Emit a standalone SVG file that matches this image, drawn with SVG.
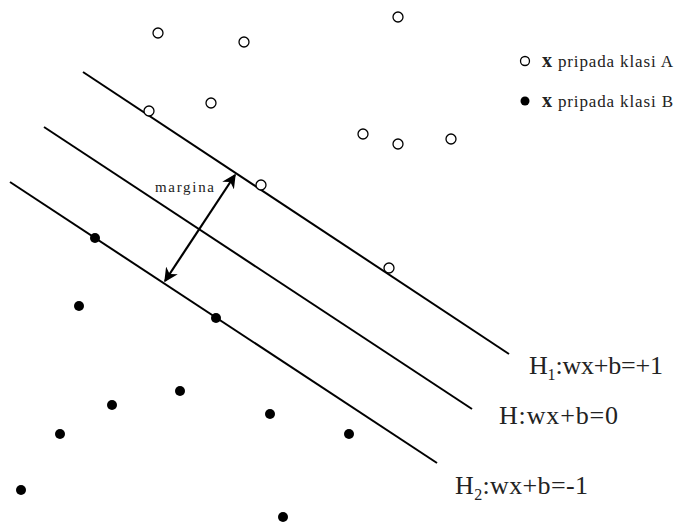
<svg xmlns="http://www.w3.org/2000/svg" width="674" height="523" viewBox="0 0 674 523">
<style>
.ln{stroke:#000;stroke-width:2;fill:none}
.a{fill:#fff;stroke:#000;stroke-width:1.3}
.b{fill:#000}
.t{font-family:"Liberation Serif",serif;fill:#222}
.lab{font-size:26px}
</style>
<defs>
<marker id="ah" viewBox="0 0 10 10" refX="9" refY="5" markerWidth="14" markerHeight="14" orient="auto-start-reverse" markerUnits="userSpaceOnUse">
<path d="M0,0 L10,5 L0,10 L3,5 z" fill="#000"/>
</marker>
</defs>
<rect width="674" height="523" fill="#fff"/>
<g id="connectors">
<line id="H1" class="ln" x1="83" y1="72" x2="509" y2="354"/>
<line id="H" class="ln" x1="44" y1="127" x2="472" y2="409"/>
<line id="H2" class="ln" x1="10" y1="182" x2="437" y2="463"/>
<line id="margin-arrow" class="ln" x1="165" y1="281" x2="235" y2="175" marker-start="url(#ah)" marker-end="url(#ah)" style="stroke-width:2.2"/>
</g>
<g id="classA">
<circle class="a" cx="158" cy="33" r="5"/>
<circle class="a" cx="244" cy="42" r="5"/>
<circle class="a" cx="398" cy="17" r="5"/>
<circle class="a" cx="149" cy="111" r="5"/>
<circle class="a" cx="211" cy="103" r="5"/>
<circle class="a" cx="363" cy="134" r="5"/>
<circle class="a" cx="398" cy="144" r="5"/>
<circle class="a" cx="451" cy="139" r="5"/>
<circle class="a" cx="261" cy="185" r="5"/>
<circle class="a" cx="389" cy="268" r="5"/>
</g>
<g id="classB">
<circle class="b" cx="95" cy="238" r="5"/>
<circle class="b" cx="79" cy="306" r="5"/>
<circle class="b" cx="216" cy="318" r="5"/>
<circle class="b" cx="112" cy="405" r="5"/>
<circle class="b" cx="180" cy="391" r="5"/>
<circle class="b" cx="270" cy="414" r="5"/>
<circle class="b" cx="60" cy="434" r="5"/>
<circle class="b" cx="349" cy="434" r="5"/>
<circle class="b" cx="21" cy="490" r="5"/>
<circle class="b" cx="283" cy="517" r="5"/>
</g>
<g id="legend">
<circle class="a" cx="525" cy="61" r="4.5"/>
<text class="t" x="542" y="67" font-size="17" textLength="131" lengthAdjust="spacing"><tspan font-weight="bold" font-size="20">x</tspan> pripada klasi A</text>
<circle class="b" cx="525" cy="101" r="4.5"/>
<text class="t" x="542" y="107" font-size="17" textLength="131" lengthAdjust="spacing"><tspan font-weight="bold" font-size="20">x</tspan> pripada klasi B</text>
</g>
<g id="labels">
<text class="t" x="155" y="192" font-size="15" textLength="59" lengthAdjust="spacing">margina</text>
<text class="t lab" x="529" y="374" textLength="134" lengthAdjust="spacing">H<tspan font-size="16" dy="6">1</tspan><tspan dy="-6">:wx+b=+1</tspan></text>
<text class="t lab" x="499" y="424" textLength="119" lengthAdjust="spacing">H:wx+b=0</text>
<text class="t lab" x="455" y="494" textLength="133" lengthAdjust="spacing">H<tspan font-size="16" dy="6">2</tspan><tspan dy="-6">:wx+b=-1</tspan></text>
</g>
</svg>
